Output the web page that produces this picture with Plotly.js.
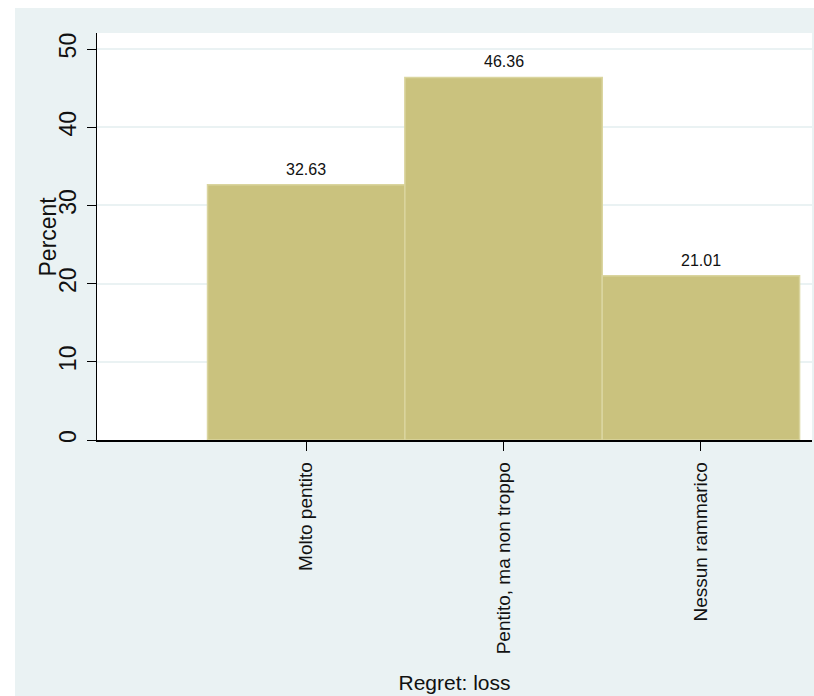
<!DOCTYPE html>
<html>
<head>
<meta charset="utf-8">
<script src="https://cdn.plot.ly/plotly-3.0.1.min.js"></script>
<style>
  html, body { margin: 0; padding: 0; background: #ffffff; }
  #wrap { position: absolute; left: 15px; top: 8px; width: 799px; height: 688px; background: #eaf2f3; }
  #chart { width: 799px; height: 688px; }
</style>
</head>
<body>
<div id="wrap"><div id="chart"></div></div>
<script>
const categories = ["Molto pentito", "Pentito, ma non troppo", "Nessun rammarico"];
const percents = [32.63, 46.36, 21.01];
const yTicks = [0, 10, 20, 30, 40, 50];
const xTitle = "Regret: loss";
const yTitle = "Percent";

const font = "Liberation Sans, Arial, sans-serif";

const trace = {
  type: "bar",
  x: categories,
  y: percents,
  width: 1,
  marker: { color: "#cac27e", line: { color: "#dad59f", width: 1.5 } },
  hoverinfo: "skip"
};

const annotations = percents.map((v, i) => ({
  x: categories[i], y: v, xref: "x", yref: "y",
  text: v.toFixed(2), showarrow: false,
  yanchor: "bottom", yshift: 5,
  font: { family: font, size: 16, color: "#111" }
}));

annotations.push({
  text: yTitle, xref: "paper", yref: "paper", x: 0, y: 0.5,
  xanchor: "center", yanchor: "middle", xshift: -50,
  textangle: -90, showarrow: false,
  font: { family: font, size: 23, color: "#111" }
});

const layout = {
  width: 799, height: 688,
  margin: { l: 82, r: 2, t: 25, b: 256 },
  paper_bgcolor: "#eaf2f3",
  plot_bgcolor: "#ffffff",
  showlegend: false,
  bargap: 0,
  font: { family: font, color: "#111" },
  xaxis: {
    type: "category",
    range: [-1.06, 2.563],
    tickangle: -90,
    ticks: "outside", ticklen: 9, tickwidth: 1, tickcolor: "#000",
    tickfont: { family: font, size: 19, color: "#111" },
    ticklabelstandoff: 4,
    showline: true, linecolor: "#000", linewidth: 1.5,
    showgrid: false, zeroline: false,
    automargin: false,
    title: { text: xTitle, font: { family: font, size: 21, color: "#111" }, standoff: 22 }
  },
  yaxis: {
    range: [0, 52.05],
    tickvals: yTicks,
    ticktext: yTicks.map(String),
    tickangle: -90,
    ticks: "outside", ticklen: 9, tickwidth: 1, tickcolor: "#000",
    tickfont: { family: font, size: 23, color: "#111" },
    ticklabelstandoff: 2,
    showline: true, linecolor: "#000", linewidth: 1,
    showgrid: true, gridcolor: "#eaf2f3", gridwidth: 2,
    zeroline: false,
    automargin: false
  },
  annotations: annotations
};

Plotly.newPlot("chart", [trace], layout, { displayModeBar: false, staticPlot: true });
</script>
</body>
</html>
